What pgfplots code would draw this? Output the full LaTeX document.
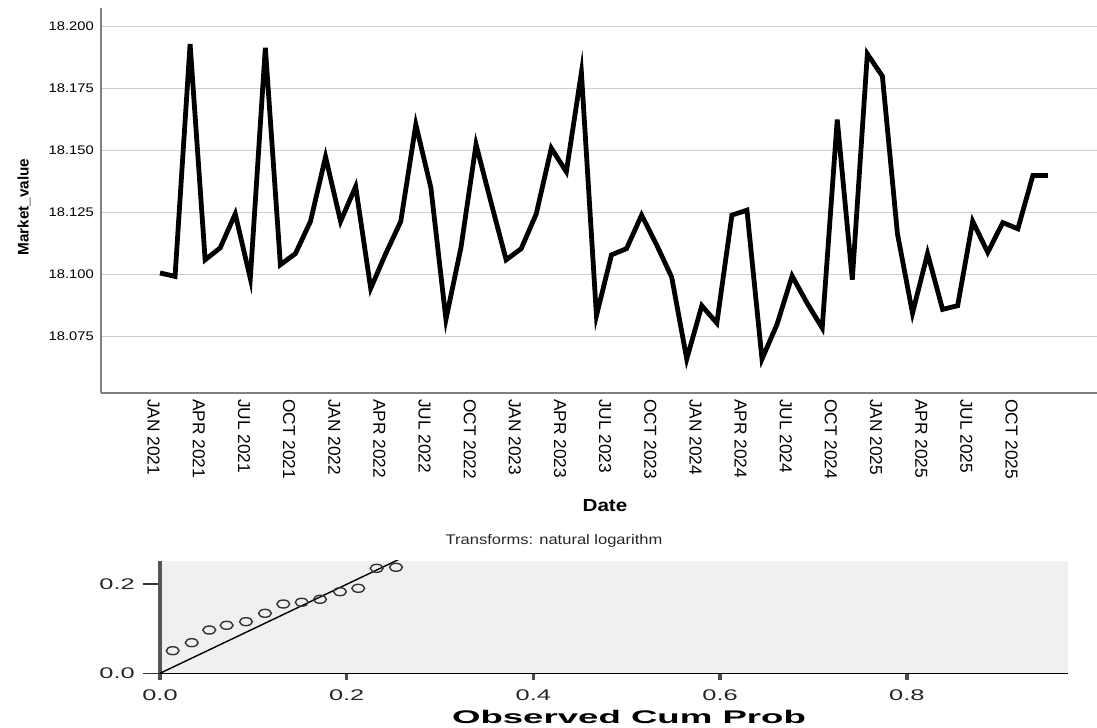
\documentclass[border=0pt]{standalone}
\usepackage{fontspec}
\setmainfont{Liberation Sans}
\newfontfamily\topwide[FakeStretch=1.18]{Liberation Sans}
\newfontfamily\botwide[FakeStretch=1.65]{Liberation Sans}
\newfontfamily\botlabel[FakeStretch=2.0]{Liberation Sans}
\usepackage{pgfplots}
\pgfplotsset{compat=1.18}

\definecolor{gridgray}{HTML}{CFCFCF}
\definecolor{spinegray}{HTML}{808080}
\definecolor{panelgray}{HTML}{F0F0F0}
\definecolor{yaxisgray}{HTML}{555555}

% monthly series, index 0 = JAN 2021
\pgfplotstableread{
idx val
0 18.1007
1 18.0993
2 18.1930
3 18.1060
4 18.1108
5 18.1245
6 18.0985
7 18.1915
8 18.1040
9 18.1085
10 18.1215
11 18.1475
12 18.1215
13 18.1355
14 18.0945
15 18.1085
16 18.1215
17 18.1605
18 18.1350
19 18.0820
20 18.1110
21 18.1525
22 18.1290
23 18.1060
24 18.1105
25 18.1245
26 18.1510
27 18.1415
28 18.1815
29 18.0835
30 18.1080
31 18.1105
32 18.1240
33 18.1120
34 18.0990
35 18.0660
36 18.0875
37 18.0805
38 18.1240
39 18.1260
40 18.0660
41 18.0800
42 18.0995
43 18.0885
44 18.0785
45 18.1625
46 18.0980
47 18.1890
48 18.1800
49 18.1165
50 18.0845
51 18.1085
52 18.0860
53 18.0875
54 18.1215
55 18.1090
56 18.1210
57 18.1185
58 18.1400
59 18.1400
}\marketdata

\begin{document}
\begin{tikzpicture}
\path[use as bounding box] (0,0) rectangle (1097bp,-728bp);

% time series
\begin{axis}[
  at={(101bp,-393bp)}, anchor=south west,
  scale only axis, width=996bp, height=385bp,
  xmin=-3.92, xmax=62.26, ymin=18.0523, ymax=18.2075,
  axis x line*=bottom, axis y line*=left,
  axis line style={-, spinegray, line width=1.3bp},
  xtick={0,3,...,57},
  xticklabels={JAN 2021,APR 2021,JUL 2021,OCT 2021,JAN 2022,APR 2022,JUL 2022,OCT 2022,
    JAN 2023,APR 2023,JUL 2023,OCT 2023,JAN 2024,APR 2024,JUL 2024,OCT 2024,
    JAN 2025,APR 2025,JUL 2025,OCT 2025},
  ytick={18.075,18.100,18.125,18.150,18.175,18.200},
  yticklabel={\pgfmathprintnumber[fixed,fixed zerofill,precision=3,assume math mode=true]{\tick}},
  major tick length=0pt, tick style={draw=none},
  ymajorgrids, grid style={gridgray, line width=1.3bp},
  yticklabel style={font=\topwide\fontsize{12.5bp}{14bp}\selectfont, anchor=east, inner sep=0pt},
  yticklabel shift=7bp,
  xticklabel style={font=\fontsize{17.3bp}{19bp}\selectfont, rotate=-90, anchor=north west, inner sep=0pt},
  xticklabel shift=6bp,
  xlabel={Date},
  xlabel style={font=\topwide\bfseries\fontsize{17.5bp}{19bp}\selectfont,
    at={(axis description cs:0.506,-0.2935)}, anchor=center},
  ylabel={Market\_value},
  ylabel style={font=\bfseries\fontsize{15.3bp}{17bp}\selectfont,
    at={(axis description cs:-0.0773,0.483)}, anchor=center},
]
\addplot[black, line width=4.8bp, line join=miter] table[x=idx, y=val] {\marketdata};
\end{axis}

% P-P plot panel
\begin{axis}[
  at={(160bp,-673.3bp)}, anchor=south west,
  scale only axis, width=908bp, height=112.6bp,
  xmin=0, xmax=0.9727, ymin=0, ymax=0.253,
  axis background/.style={fill=panelgray},
  axis x line*=bottom, axis y line*=left,
  x axis line style={-, black, line width=1.6bp},
  y axis line style={-, yaxisgray, line width=4bp},
  xtick={0,0.2,0.4,0.6,0.8}, ytick={0,0.2},
  tick align=outside,
  major tick length=7bp,
  xtick style={draw=black!70, line width=3.5bp},
  ytick style={draw=black!80, line width=1.6bp, /pgfplots/major tick length=17bp},
  xticklabel={\pgfmathprintnumber[fixed,fixed zerofill,precision=1,assume math mode=true]{\tick}},
  yticklabel={\pgfmathprintnumber[fixed,fixed zerofill,precision=1,assume math mode=true]{\tick}},
  xticklabel style={font=\botwide\fontsize{15.4bp}{17bp}\selectfont, inner sep=0pt, text=black!85},
  yticklabel style={font=\botwide\fontsize{15.4bp}{17bp}\selectfont, inner sep=0pt, text=black!85},
  xticklabel shift=9bp,
  yticklabel shift=18bp,
  xlabel={Observed Cum Prob},
  xlabel style={font=\botlabel\bfseries\fontsize{18.3bp}{20bp}\selectfont,
    at={(axis description cs:0.5165,-0.322)}, anchor=north, inner sep=0pt},
  every axis title shift=0pt,
  title={Transforms: natural logarithm},
  title style={font=\topwide\fontsize{14bp}{16bp}\selectfont, text=black!85,
    at={(axis description cs:0.434,1.142)}, anchor=base},
]
\addplot[black, line width=1.4bp] coordinates {(0,0) (0.3,0.3)};
\addplot[only marks, mark=o, mark size=4bp,
  mark options={xscale=1.6, draw=black!80, line width=1.4bp}] coordinates {
  (0.0136,0.0508) (0.0340,0.0688) (0.0528,0.0973) (0.0714,0.1079)
  (0.0921,0.1160) (0.1125,0.1348) (0.1321,0.1557) (0.1518,0.1596)
  (0.1714,0.1663) (0.1928,0.1834) (0.2124,0.1910) (0.2321,0.2359)
  (0.2528,0.2382)
};
\end{axis}
\end{tikzpicture}
\end{document}
